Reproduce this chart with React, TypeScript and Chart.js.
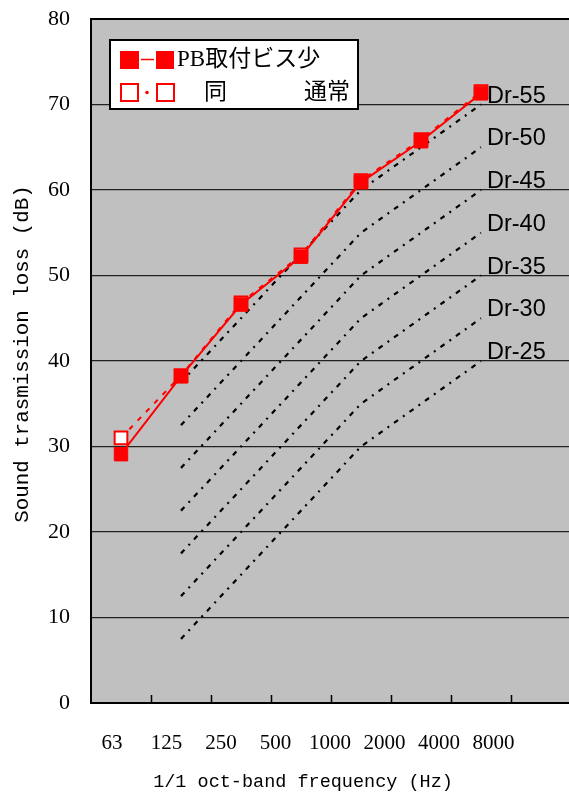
import React, { useEffect, useRef } from "react";
import { Chart, registerables } from "chart.js";
Chart.register(...registerables);

// ---- data ----
const categories = ["63", "125", "250", "500", "1000", "2000", "4000", "8000"];
const pbFewScrews = [29.1, 38.2, 46.6, 52.2, 60.9, 65.7, 71.3, null];
const pbNormal = [31.0, 38.3, 46.8, 52.4, 61.1, 65.9, 71.5, null];
const dr55 = [null, 37.5, 45, 52.5, 60, 65, 70, null];
const dr50 = [null, 32.5, 40, 47.5, 55, 60, 65, null];
const dr45 = [null, 27.5, 35, 42.5, 50, 55, 60, null];
const dr40 = [null, 22.5, 30, 37.5, 45, 50, 55, null];
const dr35 = [null, 17.5, 25, 32.5, 40, 45, 50, null];
const dr30 = [null, 12.5, 20, 27.5, 35, 40, 45, null];
const dr25 = [null, 7.5, 15, 22.5, 30, 35, 40, null];
const drLabels = ["Dr-55", "Dr-50", "Dr-45", "Dr-40", "Dr-35", "Dr-30", "Dr-25"];
const drSeries = [dr55, dr50, dr45, dr40, dr35, dr30, dr25];
const legendLabels = ["PB取付ビス少", "同", "通常"];
const xTitle = "1/1 oct-band frequency (Hz)";
const yTitle = "Sound trasmission loss (dB)";
const yMin = 0;
const yMax = 80;
const yStep = 10;

const SERIF = '"Liberation Serif", "Times New Roman", serif';
const MONO = '"Liberation Mono", "Courier New", monospace';
const JP = '"Liberation Serif", "Noto Sans CJK JP", serif';

function drawMono(ctx: CanvasRenderingContext2D, text: string, cx: number, cy: number, cell: number, font: string, rotate: boolean) {
  ctx.save();
  ctx.translate(cx, cy);
  if (rotate) ctx.rotate(-Math.PI / 2);
  ctx.font = font;
  ctx.textAlign = "center";
  ctx.textBaseline = "middle";
  ctx.fillStyle = "#000";
  const chars = Array.from(text);
  const total = chars.length * cell;
  chars.forEach((ch, i) => ctx.fillText(ch, -total / 2 + cell * (i + 0.5), 0));
  ctx.restore();
}

const decorPlugin = {
  id: "decor",
  beforeDraw(chart: any) {
    const { ctx, chartArea } = chart;
    ctx.save();
    ctx.fillStyle = "#c0c0c0";
    ctx.fillRect(chartArea.left, chartArea.top, chartArea.right - chartArea.left, chartArea.bottom - chartArea.top);
    ctx.restore();
  },
  afterDatasetsDraw(chart: any) {
    const { ctx, chartArea } = chart;
    const xs = chart.scales.x;
    ctx.save();
    ctx.strokeStyle = "#000";
    ctx.lineWidth = 2;
    ctx.beginPath();
    ctx.moveTo(chartArea.left, chartArea.top - 1);
    ctx.lineTo(chartArea.left, chartArea.bottom);
    ctx.lineTo(chartArea.right + 5, chartArea.bottom);
    ctx.stroke();
    ctx.beginPath();
    ctx.moveTo(chartArea.left, chartArea.top);
    ctx.lineTo(chartArea.right + 5, chartArea.top);
    ctx.stroke();
    // inner tick marks at category boundaries
    ctx.lineWidth = 1.5;
    for (let i = 1; i < categories.length; i++) {
      const x = Math.round((xs.getPixelForValue(i - 1) + xs.getPixelForValue(i)) / 2) + 0.5;
      ctx.beginPath();
      ctx.moveTo(x, chartArea.bottom);
      ctx.lineTo(x, chartArea.bottom - 8);
      ctx.stroke();
    }
    ctx.restore();
  },
  afterDraw(chart: any) {
    const { ctx, chartArea } = chart;
    const xs = chart.scales.x;
    const ys = chart.scales.y;
    ctx.save();
    // x tick labels
    ctx.font = `21px ${SERIF}`;
    ctx.fillStyle = "#000";
    ctx.textAlign = "center";
    ctx.textBaseline = "middle";
    categories.forEach((c, i) => {
      ctx.fillText(c, chartArea.left + 21 + i * 54.5, 743);
    });
    // titles
    drawMono(ctx, xTitle, 303, 782, 11.1, `18.5px ${MONO}`, false);
    drawMono(ctx, yTitle, 22, 354, 12.5, `20.8px ${MONO}`, true);

    // Dr labels
    ctx.font = '23.5px "Liberation Sans", Arial, sans-serif';
    ctx.textAlign = "left";
    ctx.textBaseline = "alphabetic";
    ctx.fillStyle = "#000";
    drSeries.forEach((s, k) => {
      const v = s[6] as number;
      ctx.fillText(drLabels[k], xs.getPixelForValue(6) + 6, ys.getPixelForValue(v) - 2);
    });

    // legend
    ctx.fillStyle = "#fff";
    ctx.fillRect(110, 40, 248, 69);
    ctx.strokeStyle = "#000";
    ctx.lineWidth = 2;
    ctx.strokeRect(110, 40, 248, 69);
    // row 1
    ctx.fillStyle = "#ff0000";
    ctx.fillRect(120, 51, 19, 18);
    ctx.fillRect(156, 51, 18, 18);
    ctx.strokeStyle = "#ff0000";
    ctx.lineWidth = 1.5;
    ctx.beginPath();
    ctx.moveTo(141, 59.5);
    ctx.lineTo(154, 59.5);
    ctx.stroke();
    // row 2
    ctx.lineWidth = 2;
    ctx.fillStyle = "#fff";
    ctx.fillRect(121, 84, 17, 17);
    ctx.fillRect(157, 84, 17, 17);
    ctx.strokeRect(121, 84, 17, 17);
    ctx.strokeRect(157, 84, 17, 17);
    ctx.fillStyle = "#ff0000";
    ctx.beginPath();
    ctx.arc(147, 92.5, 1.8, 0, Math.PI * 2);
    ctx.fill();
    ctx.fillStyle = "#000";
    ctx.font = `23px ${JP}`;
    ctx.textBaseline = "middle";
    ctx.textAlign = "left";
    ctx.fillText(legendLabels[0], 177, 60);
    ctx.fillText(legendLabels[1], 204, 93);
    ctx.textAlign = "right";
    ctx.fillText(legendLabels[2], 350, 93);
    ctx.restore();
  },
};

export default function App() {
  const ref = useRef<HTMLCanvasElement | null>(null);
  useEffect(() => {
    if (!ref.current) return;
    const drDatasets = drSeries.map((s, k) => ({
      label: drLabels[k],
      data: s,
      borderColor: "#000",
      backgroundColor: "#000",
      borderWidth: 2.2,
      borderDash: [5, 6, 2, 6],
      pointRadius: 0,
      fill: false,
      tension: 0,
    }));
    const chart = new Chart(ref.current, {
      type: "line",
      data: {
        labels: categories,
        datasets: [
          {
            label: legendLabels[0],
            data: pbFewScrews,
            borderColor: "#ff0000",
            backgroundColor: "#ff0000",
            borderWidth: 2,
            pointStyle: "rect",
            pointRadius: 9.5,
            pointBorderWidth: 1,
            pointBackgroundColor: "#ff0000",
            pointBorderColor: "#ff0000",
            fill: false,
            tension: 0,
          },
          {
            label: legendLabels[2],
            data: pbNormal,
            borderColor: "#ff0000",
            backgroundColor: "#ffffff",
            borderWidth: 2,
            borderDash: [5, 7],
            pointStyle: "rect",
            pointRadius: 9,
            pointBorderWidth: 2,
            pointBackgroundColor: "#ffffff",
            pointBorderColor: "#ff0000",
            fill: false,
            tension: 0,
          },
          ...drDatasets,
        ],
      },
      options: {
        responsive: false,
        maintainAspectRatio: false,
        animation: false,
        layout: { padding: { top: 19, right: 29, left: 0, bottom: 0 } },
        plugins: { legend: { display: false }, tooltip: { enabled: false } },
        scales: {
          x: {
            type: "category",
            offset: true,
            grid: { display: false },
            border: { display: false },
            ticks: { display: false },
            afterFit: (s: any) => {
              s.height = 90;
              s.paddingLeft = 0;
              s.paddingRight = 0;
            },
          },
          y: {
            min: yMin,
            max: yMax,
            ticks: {
              stepSize: yStep,
              color: "#000",
              padding: 21,
              font: { family: SERIF, size: 22 },
            },
            grid: { color: "#222", lineWidth: 1.3, drawTicks: false },
            border: { display: false },
            afterFit: (s: any) => {
              s.width = 91;
              s.paddingTop = 0;
              s.paddingBottom = 0;
            },
          },
        },
      } as any,
      plugins: [decorPlugin],
    });
    return () => chart.destroy();
  }, []);
  return (
    <div style={{ position: "fixed", left: 0, top: 0, width: 569, height: 793, overflow: "hidden", background: "#fff" }}>
      <canvas ref={ref} width={600} height={793} style={{ display: "block", width: 600, height: 793 }} />
    </div>
  );
}
